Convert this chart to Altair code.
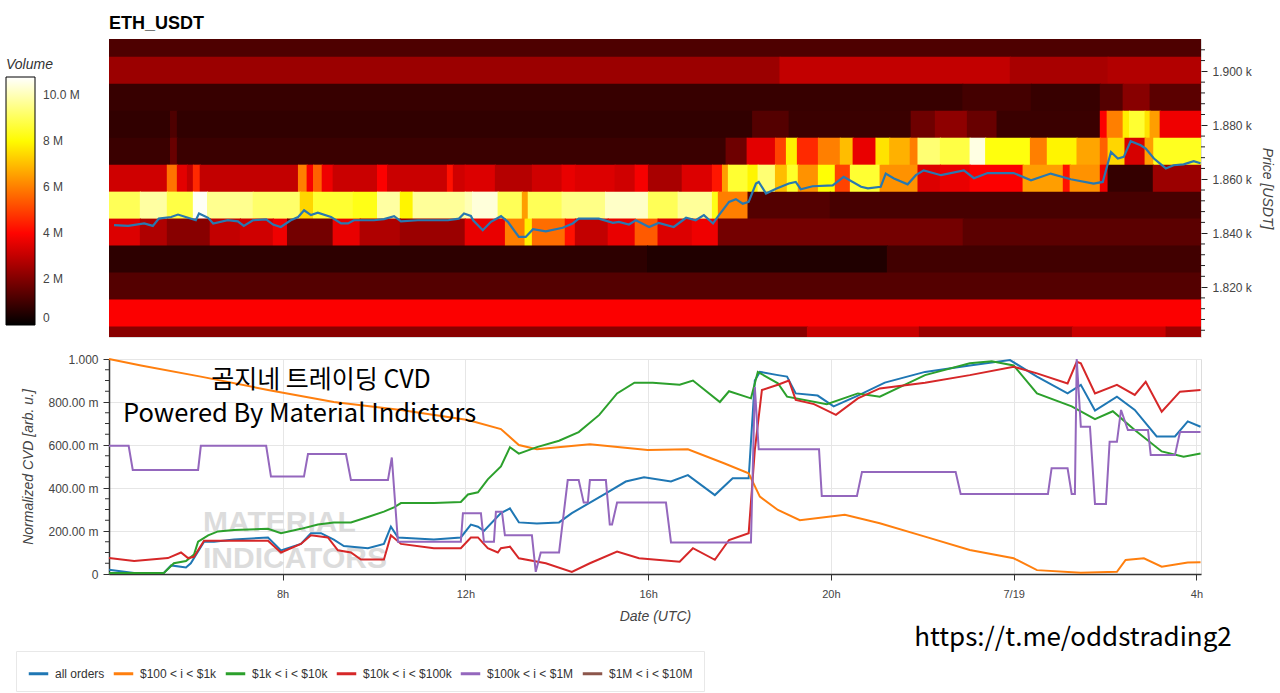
import altair as alt
import pandas as pd

# ---------------- time axis (hours since 7/18 00:00 UTC) ----------------
T_START = 4.2
T_END = 28.1
X_TICKS = [8, 12, 16, 20, 24, 28]

# ---------------- order-book heatmap (volume in millions) ----------------
# each band: list of (segment start hour, volume M); a segment ends where the next starts
band_1910 = [(4.2, 1.2)]
band_1900 = [(4.2, 2.4), (18.9, 3.0), (23.94, 2.6), (26.08, 2.75)]
band_1890 = [(4.2, 0.85), (22.9, 1.05), (24.4, 0.85), (25.91, 1.3), (26.41, 2.1), (27.0, 1.4)]
band_1880 = [(4.2, 0.75), (5.56, 1.2), (5.71, 0.75), (18.3, 1.3), (19.1, 0.9), (21.77, 1.7),
             (22.3, 2.2), (23.0, 1.6), (23.65, 0.9), (25.91, 3.9), (26.06, 6.0), (26.41, 7.8),
             (26.55, 8.6), (26.89, 7.6), (27.0, 6.5), (27.22, 3.7)]
band_1870 = [(4.2, 0.9), (5.56, 1.6), (5.71, 0.9), (17.72, 1.7), (18.18, 3.5), (18.8, 5.0),
             (19.04, 7.8), (19.28, 4.6), (19.74, 6.0), (20.22, 7.0), (20.5, 3.6), (21.0, 7.6),
             (21.3, 6.8), (21.75, 6.0), (21.92, 9.3), (22.41, 8.8), (23.06, 10.5), (23.4, 8.2),
             (24.38, 6.0), (24.75, 7.9), (25.4, 6.6), (25.91, 5.5), (26.08, 7.4), (26.45, 3.3),
             (26.89, 6.5), (27.08, 8.4)]
band_1860 = [(4.2, 3.2), (5.49, 5.8), (5.71, 3.5), (5.93, 3.0), (6.06, 4.6), (6.21, 3.0),
             (8.36, 6.0), (8.55, 3.8), (8.69, 5.5), (8.88, 3.7), (9.12, 3.1), (10.09, 3.9),
             (10.31, 3.1), (11.62, 4.2), (11.75, 3.2), (12.01, 3.4), (12.67, 2.8), (13.48, 3.2),
             (14.13, 3.6), (14.42, 3.4), (15.29, 3.2), (15.73, 3.8), (16.02, 2.6), (16.76, 3.4),
             (17.42, 4.3), (17.64, 6.5), (17.77, 8.6), (18.2, 7.9), (18.42, 9.3), (18.8, 7.0),
             (19.06, 8.5), (19.3, 6.3), (19.74, 8.1), (20.11, 5.0), (20.44, 8.6), (21.09, 6.3),
             (21.92, 3.4), (22.41, 3.6), (23.06, 3.9), (24.22, 6.5), (25.1, 4.2), (25.25, 6.3),
             (25.91, 3.7), (26.08, 0.8), (27.07, 2.4)]
band_1850 = [(4.2, 9.0), (4.9, 9.8), (5.49, 8.8), (6.06, 10.7), (6.37, 9.6), (7.37, 9.2),
             (8.4, 7.4), (8.69, 8.6), (9.56, 8.3), (10.09, 9.8), (10.59, 7.9), (10.87, 9.7),
             (12.01, 10.0), (12.17, 10.4), (12.73, 9.0), (13.26, 6.5), (13.39, 9.0), (14.13, 9.5),
             (15.08, 10.2), (16.02, 9.0), (16.67, 9.7), (17.42, 8.3), (17.55, 6.0), (18.2, 1.3),
             (20.0, 1.1)]
band_1840 = [(4.2, 3.4), (4.9, 2.7), (5.49, 2.1), (6.43, 3.0), (7.09, 3.2), (7.81, 3.7),
             (8.12, 1.8), (9.12, 3.6), (9.71, 2.7), (10.59, 2.4), (12.01, 3.6), (12.89, 6.0),
             (13.32, 7.8), (13.48, 5.7), (14.2, 4.2), (14.42, 3.0), (15.14, 3.6), (15.73, 5.4),
             (16.23, 3.4), (16.98, 3.7), (17.55, 1.8), (22.91, 1.4)]
band_1830 = [(4.2, 0.7), (16.0, 0.5), (21.25, 1.0)]
band_1820 = [(4.2, 1.3)]
band_1810 = [(4.2, 3.9)]
band_1800 = [(4.2, 2.1), (19.5, 3.1), (21.95, 2.4), (25.3, 3.1), (27.35, 2.4)]

BANDS = {1910: band_1910, 1900: band_1900, 1890: band_1890, 1880: band_1880,
         1870: band_1870, 1860: band_1860, 1850: band_1850, 1840: band_1840,
         1830: band_1830, 1820: band_1820, 1810: band_1810, 1800: band_1800}
BAND_HALF = 5
PRICE_LO, PRICE_HI = 1801.5, 1912.0   # visible price range of the heatmap
SEAM_T, SEAM_P = 0.025, 0.4           # tiny overlap so neighbouring cells leave no hairline

# ---------------- price line: (hour, USDT) ----------------
price_points = [
    (4.31, 1843.0), (4.62, 1842.7), (4.97, 1843.6), (5.16, 1842.7), (5.29, 1845.4),
    (5.56, 1846.0), (5.71, 1846.9), (5.93, 1845.7), (6.10, 1844.8), (6.17, 1847.3),
    (6.37, 1845.7), (6.48, 1843.6), (6.80, 1844.8), (7.02, 1844.4), (7.15, 1842.7),
    (7.35, 1844.8), (7.64, 1845.1), (7.79, 1843.2), (7.96, 1842.3), (8.18, 1844.8),
    (8.34, 1846.0), (8.47, 1848.5), (8.62, 1846.7), (8.77, 1847.6), (9.06, 1846.0),
    (9.28, 1843.6), (9.43, 1843.6), (9.56, 1844.8), (10.0, 1844.8), (10.22, 1845.2),
    (10.44, 1846.3), (10.59, 1844.4), (10.96, 1844.8), (11.31, 1844.8), (11.62, 1844.8),
    (11.86, 1845.4), (11.97, 1847.3), (12.12, 1846.4), (12.17, 1844.8), (12.38, 1841.1),
    (12.56, 1844.2), (12.78, 1846.3), (12.93, 1844.2), (13.17, 1838.6), (13.32, 1838.6),
    (13.48, 1841.5), (13.76, 1840.7), (14.13, 1842.0), (14.35, 1843.6), (14.48, 1845.4),
    (14.92, 1845.4), (15.23, 1843.8), (15.36, 1844.2), (15.58, 1843.2), (15.73, 1844.8),
    (16.02, 1842.3), (16.23, 1843.8), (16.56, 1842.3), (16.83, 1845.7), (17.04, 1844.8),
    (17.22, 1846.7), (17.42, 1843.6), (17.55, 1846.7), (17.77, 1851.6), (17.92, 1852.6),
    (18.07, 1850.9), (18.2, 1851.6), (18.36, 1858.4), (18.42, 1859.0), (18.58, 1854.7),
    (18.8, 1856.5), (19.08, 1858.4), (19.23, 1859.0), (19.34, 1856.3), (19.6, 1857.4),
    (20.04, 1857.7), (20.28, 1860.9), (20.66, 1857.2), (20.81, 1856.6), (21.09, 1857.2),
    (21.2, 1862.1), (21.38, 1860.3), (21.68, 1858.1), (21.86, 1861.5), (22.03, 1863.3),
    (22.41, 1861.5), (22.91, 1863.3), (23.13, 1860.4), (23.43, 1862.3), (24.0, 1862.3),
    (24.38, 1859.6), (24.81, 1862.1), (25.25, 1860.0), (25.75, 1858.4), (25.95, 1859.0),
    (26.13, 1870.1), (26.28, 1867.7), (26.41, 1868.3), (26.56, 1874.1), (26.78, 1872.6),
    (26.89, 1871.4), (27.07, 1867.7), (27.33, 1864.0), (27.5, 1865.2), (27.72, 1865.5),
    (27.94, 1866.7), (28.09, 1865.9)]
PRICE_TICKS = [1820, 1840, 1860, 1880, 1900]
PRICE_MINOR = [1804, 1808, 1812, 1816, 1824, 1828, 1832, 1836, 1844, 1848, 1852, 1856,
               1864, 1868, 1872, 1876, 1884, 1888, 1892, 1896, 1904, 1908]

# ---------------- normalized CVD series ----------------
SERIES = ["all orders", "$100 < i < $1k", "$1k < i < $10k", "$10k < i < $100k",
          "$100k < i < $1M", "$1M < i < $10M"]
SERIES_COLORS = ["#1f77b4", "#ff7f0e", "#2ca02c", "#d62728", "#9467bd", "#8c564b"]

all_t = [4.2, 4.75, 5.4, 5.56, 5.885, 5.99, 6.28, 6.5, 6.935, 7.68, 7.964, 8.4, 8.62, 8.84, 9.12,
         9.34, 9.867, 10.217, 10.37, 10.524, 11.31, 11.9, 12.12, 12.275, 12.406, 12.778, 12.975,
         13.17, 13.565, 14.05, 14.33, 15.075, 15.51, 15.91, 16.5, 16.87, 17.46, 17.85, 18.2,
         18.335, 18.445, 18.84, 19.04, 19.23, 19.71, 20.06, 20.59, 21.18, 22.06, 23.04, 23.92,
         24.51, 25.18, 25.47, 25.78, 26.26, 26.65, 27.13, 27.53, 27.81, 28.09]
all_v = [0.02, 0.005, 0.005, 0.04, 0.03, 0.05, 0.15, 0.15, 0.16, 0.17, 0.11, 0.14, 0.19, 0.19,
         0.16, 0.13, 0.12, 0.14, 0.22, 0.17, 0.16, 0.17, 0.23, 0.22, 0.2, 0.283, 0.305, 0.24,
         0.235, 0.24, 0.283, 0.375, 0.43, 0.45, 0.43, 0.46, 0.367, 0.445, 0.445, 0.9, 0.94,
         0.925, 0.918, 0.84, 0.83, 0.78, 0.83, 0.89, 0.94, 0.97, 0.995, 0.918, 0.84, 0.88, 0.76,
         0.825, 0.763, 0.64, 0.64, 0.71, 0.685]

s100_t = [4.2, 4.9, 6.21, 7.68, 9.12, 10.59, 12.056, 12.778, 13.17, 13.565, 14.725, 15.99, 16.87,
          17.66, 18.2, 18.445, 18.84, 19.32, 20.305, 21.07, 22.06, 23.04, 24.0, 24.51, 25.47,
          26.26, 26.45, 26.85, 27.24, 27.81, 28.09]
s100_v = [1.0, 0.97, 0.918, 0.856, 0.80, 0.763, 0.716, 0.674, 0.60, 0.58, 0.603, 0.577, 0.58,
          0.515, 0.468, 0.36, 0.298, 0.25, 0.275, 0.236, 0.174, 0.112, 0.073, 0.018, 0.006,
          0.01, 0.065, 0.073, 0.034, 0.053, 0.055]

s1k_t = [4.2, 5.4, 5.62, 5.885, 6.06, 6.15, 6.37, 6.585, 6.935, 7.68, 7.964, 8.4, 8.773, 9.12,
         9.495, 9.867, 10.217, 10.436, 10.59, 11.31, 11.9, 12.056, 12.275, 12.49, 12.778, 12.975,
         13.17, 13.565, 14.05, 14.48, 14.93, 15.32, 15.7, 16.1, 16.69, 16.98, 17.57, 17.77,
         18.25, 18.40, 18.84, 19.04, 19.91, 20.59, 21.07, 22.06, 23.04, 23.52, 24.0, 24.51,
         25.27, 25.78, 26.17, 26.65, 27.24, 27.72, 28.09]
s1k_v = [0.005, 0.005, 0.05, 0.06, 0.09, 0.15, 0.18, 0.198, 0.205, 0.21, 0.19, 0.21, 0.23, 0.24,
         0.24, 0.265, 0.29, 0.31, 0.33, 0.33, 0.335, 0.37, 0.38, 0.44, 0.50, 0.59, 0.56, 0.59,
         0.62, 0.66, 0.74, 0.84, 0.89, 0.89, 0.88, 0.9, 0.80, 0.85, 0.817, 0.94, 0.887, 0.825,
         0.79, 0.84, 0.825, 0.925, 0.98, 0.99, 0.97, 0.84, 0.78, 0.72, 0.757, 0.67, 0.57, 0.546,
         0.56]

s10k_t = [4.2, 4.75, 5.49, 5.776, 5.93, 6.06, 6.28, 6.935, 7.68, 7.964, 8.4, 8.62, 8.99, 9.21,
          9.495, 9.714, 10.217, 10.37, 10.59, 11.31, 11.9, 12.12, 12.275, 12.49, 12.71, 12.778,
          12.975, 13.17, 13.76, 14.33, 14.725, 15.32, 15.80, 16.69, 16.98, 17.46, 17.77, 18.2,
          18.335, 18.49, 18.84, 19.08, 19.23, 19.63, 20.11, 20.59, 21.07, 22.06, 23.04, 24.0,
          24.51, 25.18, 25.38, 25.47, 25.78, 26.26, 26.65, 26.89, 27.24, 27.64, 28.09]
s10k_v = [0.074, 0.06, 0.074, 0.1, 0.074, 0.08, 0.155, 0.155, 0.155, 0.1, 0.14, 0.18, 0.17, 0.11,
          0.1, 0.067, 0.067, 0.18, 0.14, 0.12, 0.12, 0.17, 0.17, 0.12, 0.1, 0.12, 0.127, 0.073,
          0.05, 0.01, 0.05, 0.104, 0.073, 0.057, 0.12, 0.066, 0.158, 0.19, 0.577, 0.856, 0.88,
          0.9, 0.81, 0.79, 0.74, 0.817, 0.863, 0.89, 0.925, 0.964, 0.933, 0.886, 0.987, 0.98,
          0.84, 0.88, 0.833, 0.894, 0.755, 0.848, 0.856]

s100k_t = [4.2, 4.63, 4.72, 6.15, 6.21, 7.64, 7.745, 8.467, 8.555, 9.386, 9.495, 10.305, 10.39,
           10.524, 11.90, 11.946, 12.34, 12.406, 12.625, 12.668, 12.80, 12.865, 13.456, 13.54,
           13.65, 14.05, 14.24, 14.48, 14.59, 14.68, 14.725, 15.075, 15.16, 15.21, 15.32, 16.39,
           16.50, 18.25, 18.335, 18.42, 19.74, 19.80, 20.57, 20.68, 22.73, 22.84, 24.75, 24.83,
           25.18, 25.27, 25.34, 25.38, 25.47, 25.67, 25.78, 26.02, 26.10, 26.26, 26.35, 26.50,
           26.94, 27.0, 27.53, 27.64, 28.09]
s100k_v = [0.596, 0.596, 0.484, 0.484, 0.596, 0.596, 0.453, 0.453, 0.558, 0.558, 0.437, 0.437,
           0.542, 0.15, 0.15, 0.283, 0.283, 0.15, 0.15, 0.29, 0.29, 0.18, 0.18, 0.01, 0.1, 0.1,
           0.437, 0.437, 0.332, 0.332, 0.437, 0.437, 0.23, 0.23, 0.332, 0.332, 0.147, 0.147,
           0.87, 0.58, 0.58, 0.363, 0.363, 0.475, 0.475, 0.372, 0.372, 0.492, 0.492, 0.372,
           0.372, 1.0, 0.685, 0.685, 0.326, 0.326, 0.615, 0.615, 0.763, 0.67, 0.67, 0.553, 0.553,
           0.66, 0.66]

CVD_TICKS = [0, 0.2, 0.4, 0.6, 0.8, 1.0]
CVD_MINOR = [0.05, 0.1, 0.15, 0.25, 0.3, 0.35, 0.45, 0.5, 0.55, 0.65, 0.7, 0.75, 0.85, 0.9, 0.95]

VOLUME_TICKS = [0, 2, 4, 6, 8, 10]
HOT_STOPS = [0, 3.94, 8.06, 10.8]
HOT_COLORS = ["#000000", "#ff0000", "#ffff00", "#ffffff"]

# ---------------- build tables ----------------
heat_rows = []
for price, segs in BANDS.items():
    for i, (t0, vol) in enumerate(segs):
        t1 = segs[i + 1][0] if i + 1 < len(segs) else T_END
        heat_rows.append({"t0": t0 - (SEAM_T if i > 0 else 0), "t1": t1,
                          "p0": max(price - BAND_HALF, PRICE_LO),
                          "p1": min(price + BAND_HALF + SEAM_P, PRICE_HI),
                          "vol": vol})
heat_df = pd.DataFrame(heat_rows)
price_df = pd.DataFrame(price_points, columns=["t", "p"])
price_minor_df = pd.DataFrame({"p": PRICE_MINOR})

cvd_rows = []
for name, ts, vs in [(SERIES[0], all_t, all_v), (SERIES[1], s100_t, s100_v),
                     (SERIES[2], s1k_t, s1k_v), (SERIES[3], s10k_t, s10k_v),
                     (SERIES[4], s100k_t, s100k_v)]:
    for t, v in zip(ts, vs):
        cvd_rows.append({"series": name, "t": t, "v": v})
cvd_df = pd.DataFrame(cvd_rows)
cvd_minor_df = pd.DataFrame({"v": CVD_MINOR})

FONT = "Liberation Sans"
AX_COLOR = "#444444"

x_scale = alt.Scale(domain=[T_START, T_END], nice=False, zero=False)
hot = alt.Scale(domain=HOT_STOPS, range=HOT_COLORS, interpolate="rgb", clamp=True)
price_scale = alt.Scale(domain=[PRICE_LO, PRICE_HI], nice=False, zero=False)

# ---------------- top panel ----------------
heat = alt.Chart(heat_df).mark_rect().encode(
    x=alt.X("t0:Q", scale=x_scale, axis=None),
    x2="t1:Q",
    y=alt.Y("p0:Q", scale=price_scale,
            axis=alt.Axis(orient="right", values=PRICE_TICKS,
                          labelExpr="format(datum.value/1000, '.3f') + ' k'",
                          title="Price [USDT]", titleFontStyle="italic",
                          titleFontWeight="normal", titleFontSize=14, titleColor=AX_COLOR,
                          titleFont=FONT, titlePadding=8, labelFont=FONT, labelFontSize=12,
                          labelColor=AX_COLOR, domain=False, grid=False, tickColor="#222",
                          tickSize=6, labelPadding=5)),
    y2="p1:Q",
    color=alt.Color("vol:Q", scale=hot,
                    legend=alt.Legend(type="gradient", title="Volume", orient="none",
                                      legendX=-103, legendY=19, direction="vertical",
                                      gradientLength=248, gradientThickness=29,
                                      gradientStrokeColor="black", gradientStrokeWidth=1,
                                      values=VOLUME_TICKS,
                                      labelExpr="datum.value == 0 ? '0' : (datum.value == 10 ? '10.0 M' : datum.value + ' M')",
                                      labelFont=FONT, labelFontSize=12, labelColor=AX_COLOR,
                                      labelOffset=8, titleFont=FONT, titleFontSize=14,
                                      titleFontStyle="italic", titleFontWeight="normal",
                                      titleColor="#333", titlePadding=5, padding=0)),
)

price_line = alt.Chart(price_df).mark_line(color="#2878b0", strokeWidth=2.2, clip=True).encode(
    x=alt.X("t:Q", scale=x_scale),
    y=alt.Y("p:Q", scale=price_scale),
)

price_minor = alt.Chart(price_minor_df).mark_rule(color="#222", strokeWidth=1).encode(
    y=alt.Y("p:Q", scale=price_scale),
    x=alt.value(1092), x2=alt.value(1096),
)

top = alt.layer(heat, price_line, price_minor).properties(
    width=1092, height=298,
    title=alt.TitleParams("ETH_USDT", anchor="start", frame="group", font=FONT,
                          fontSize=18, fontWeight="bold", color="black", offset=6),
)

# ---------------- bottom panel ----------------
wm1 = alt.Chart(pd.DataFrame({"s": ["MATERIAL"]})).mark_text(
    align="left", baseline="alphabetic", font=FONT, fontWeight="bold",
    fontSize=30, color="#dcdcdc").encode(text="s:N", x=alt.value(94), y=alt.value(173))
wm2 = alt.Chart(pd.DataFrame({"s": ["INDICATORS"]})).mark_text(
    align="left", baseline="alphabetic", font=FONT, fontWeight="bold",
    fontSize=30, color="#dcdcdc").encode(text="s:N", x=alt.value(94), y=alt.value(209))

lines = alt.Chart(cvd_df).mark_line(strokeWidth=2).encode(
    x=alt.X("t:Q", scale=x_scale,
            axis=alt.Axis(values=X_TICKS,
                          labelExpr="datum.value == 24 ? '7/19' : (datum.value % 24) + 'h'",
                          title="Date (UTC)", titleFont=FONT, titleFontSize=14,
                          titleFontStyle="italic", titleFontWeight="normal",
                          titleColor=AX_COLOR, titlePadding=10, labelFont=FONT,
                          labelFontSize=11, labelColor=AX_COLOR, labelPadding=8,
                          labelFlush=False, domainColor="#333", domainWidth=1.5,
                          tickColor="#333", tickSize=6, gridColor="#e6e6e6")),
    y=alt.Y("v:Q", scale=alt.Scale(domain=[0, 1], nice=False),
            axis=alt.Axis(values=CVD_TICKS,
                          labelExpr="datum.value == 0 ? '0' : (datum.value == 1 ? '1.000' : format(datum.value*1000, '.2f') + ' m')",
                          title="Normalized CVD [arb. u.]", titleFont=FONT, titleFontSize=14,
                          titleFontStyle="italic", titleFontWeight="normal",
                          titleColor=AX_COLOR, titlePadding=12, labelFont=FONT,
                          labelFontSize=12, labelColor=AX_COLOR, labelPadding=5,
                          labelFlush=False, domainColor="#333", domainWidth=1.5,
                          tickColor="#333", tickSize=6, gridColor="#e6e6e6")),
    color=alt.Color("series:N", scale=alt.Scale(domain=SERIES, range=SERIES_COLORS),
                    sort=SERIES,
                    legend=alt.Legend(title=None, orient="none", legendX=-93, legendY=292,
                                      direction="horizontal", columns=6,
                                      symbolType="stroke", symbolStrokeWidth=3,
                                      symbolSize=380, labelFont=FONT, labelFontSize=12,
                                      labelColor="#333", labelOffset=5, columnPadding=2,
                                      padding=11, strokeColor="#e8e8e8", fillColor="white",
                                      labelLimit=0)),
    order=alt.Order("t:Q"),
)

cvd_minor = alt.Chart(cvd_minor_df).mark_rule(color="#333", strokeWidth=1).encode(
    y=alt.Y("v:Q", scale=alt.Scale(domain=[0, 1], nice=False)),
    x=alt.value(-4), x2=alt.value(0),
)

title_ko = alt.Chart(pd.DataFrame({"s": ["곰지네 트레이딩 CVD"]})).mark_text(
    align="center", baseline="middle", font="Noto Sans CJK KR", fontSize=25,
    color="black").encode(text="s:N", x=alt.value(212), y=alt.value(21))
powered = alt.Chart(pd.DataFrame({"s": ["Powered By Material Indictors"]})).mark_text(
    align="left", baseline="middle", font="Noto Sans CJK KR", fontSize=25.5,
    color="black").encode(text="s:N", x=alt.value(14), y=alt.value(55))
url = alt.Chart(pd.DataFrame({"s": ["https://t.me/oddstrading2"]})).mark_text(
    align="center", baseline="middle", font="Noto Sans CJK KR", fontSize=26,
    color="black").encode(text="s:N", x=alt.value(964), y=alt.value(279))

bottom = alt.layer(wm1, wm2, lines, cvd_minor, title_ko, powered, url).properties(
    width=1092, height=215)

chart = alt.vconcat(top, bottom, spacing=14).resolve_scale(
    x="independent", y="independent", color="independent"
).resolve_legend(color="independent").properties(
    padding={"left": 5, "top": 14, "right": 5, "bottom": 0}
).configure_view(stroke=None).configure(background="white")

chart.save("out.html", embed_options={"renderer": "svg", "actions": False})
